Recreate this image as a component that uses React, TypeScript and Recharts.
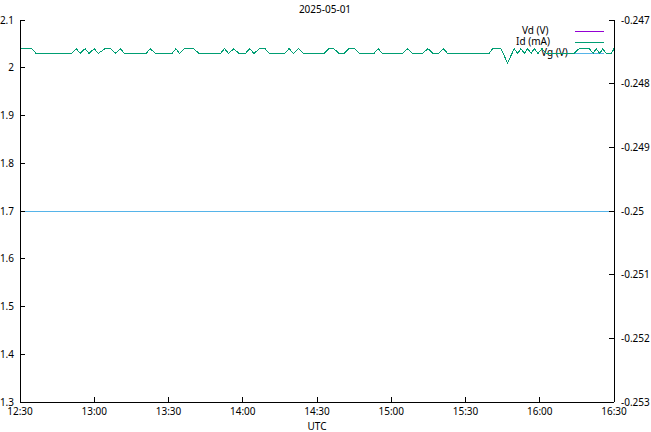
import React from 'react';
import { LineChart, Line, XAxis, YAxis, Customized } from 'recharts';

// minutes since 12:30 UTC
const times = [
  0, 4.7, 6.5, 20.9, 22.7, 24.3, 26.3, 27.9, 30, 31.6, 34.4, 36.7, 38.7, 40.5, 42.2,
  51, 52.6, 54.7, 61.4, 63, 64.4, 66.4, 70.2, 72.3, 81, 82.6, 84.3, 86.4, 88.4, 91.1,
  92.8, 94.5, 96.8, 99, 100.8, 106.9, 108.7, 110.5, 112.5, 114.5, 122.9, 124.8, 126.8,
  128.9, 130.9, 132.8, 135.1, 137.1, 143, 144.7, 146.4, 154.5, 156.7, 158.6, 162.6,
  164.8, 166.9, 169.1, 171, 172.8, 189.5, 191, 194.3, 197, 199.7, 201.1, 202.4, 203.8,
  205.1, 206.5, 207.8, 209.3, 210.9, 212.6, 223.9, 225.9, 230, 231.6, 232.8, 234.2,
  235.5, 236.8, 238.9, 240,
];
const idValues = [
  2.04, 2.04, 2.03, 2.03, 2.04, 2.03, 2.04, 2.03, 2.04, 2.03, 2.04, 2.04, 2.03, 2.04, 2.03,
  2.03, 2.04, 2.03, 2.03, 2.04, 2.03, 2.04, 2.04, 2.03, 2.03, 2.04, 2.03, 2.04, 2.03, 2.03,
  2.04, 2.03, 2.04, 2.04, 2.03, 2.03, 2.04, 2.03, 2.04, 2.03, 2.03, 2.04, 2.04,
  2.03, 2.03, 2.04, 2.04, 2.03, 2.03, 2.04, 2.03, 2.03, 2.04, 2.03, 2.03,
  2.04, 2.03, 2.03, 2.04, 2.03, 2.03, 2.04, 2.04, 2.01, 2.04, 2.03, 2.04, 2.03,
  2.04, 2.03, 2.04, 2.03, 2.04, 2.03, 2.03, 2.04, 2.04, 2.03, 2.04, 2.03,
  2.04, 2.03, 2.03, 2.04,
];
// Vd is drawn underneath Id and is fully hidden by it in the reference
const vdValues = [...idValues];
const vgTimes = [0, 240];
const vgValues = [-0.25, -0.25];

const xTicks = [0, 30, 60, 90, 120, 150, 180, 210, 240];
const xTickLabels = ['12:30', '13:00', '13:30', '14:00', '14:30', '15:00', '15:30', '16:00', '16:30'];
const leftTicks = [1.3, 1.4, 1.5, 1.6, 1.7, 1.8, 1.9, 2.0, 2.1];
const rightTicks = [-0.253, -0.252, -0.251, -0.25, -0.249, -0.248, -0.247];

const title = '2025-05-01';
const xLabel = 'UTC';

const data = times.map((t, i) => ({ t, id: idValues[i], vd: vdValues[i] }));
const vgData = vgTimes.map((t, i) => ({ t, vg: vgValues[i] }));

const FONT = 'Noto Sans';
const tickStyle = { fontSize: 10, fill: '#000', fontFamily: FONT };
const axisStroke = { stroke: '#000', shapeRendering: 'crispEdges' as const };

const Overlay = () => (
  <g fontFamily={FONT} fontSize={10} fill="#000">
    <text x={325} y={9} textAnchor="middle" dominantBaseline="central">{title}</text>
    <text x={317} y={426} textAnchor="middle" dominantBaseline="central">{xLabel}</text>
    <text x={522} y={30} dominantBaseline="central">Vd (V)</text>
    <line x1={575} x2={604} y1={31.5} y2={31.5} stroke="#9400d3" strokeWidth={1} shapeRendering="crispEdges" />
    <text x={516} y={41} dominantBaseline="central">Id (mA)</text>
    <line x1={575} x2={604} y1={42.5} y2={42.5} stroke="#009e73" strokeWidth={1} shapeRendering="crispEdges" />
    <text x={541} y={52} dominantBaseline="central">Vg (V)</text>
    <line x1={575} x2={604} y1={53.5} y2={53.5} stroke="#56b4e9" strokeWidth={1} shapeRendering="crispEdges" />
  </g>
);

export default function App() {
  return (
    <div style={{ position: 'absolute', left: 0, top: 0, width: 651, height: 432, background: '#fff' }}>
      <LineChart
        width={651}
        height={432}
        data={data}
        margin={{ top: 20, right: 0, bottom: 0, left: 0 }}
        style={{ fontFamily: FONT }}
      >
        <XAxis
          dataKey="t"
          type="number"
          domain={[0, 240]}
          ticks={xTicks}
          allowDataOverflow
          height={30}
          tickSize={-5}
          tickMargin={11}
          tick={tickStyle}
          tickFormatter={(v: number) => xTickLabels[xTicks.indexOf(v)] ?? ''}
          axisLine={axisStroke}
          tickLine={axisStroke}
          interval={0}
        />
        <XAxis
          xAxisId="top"
          orientation="top"
          dataKey="t"
          type="number"
          domain={[0, 240]}
          ticks={xTicks}
          allowDataOverflow
          height={0}
          tickSize={-5}
          tick={false}
          axisLine={axisStroke}
          tickLine={axisStroke}
          interval={0}
        />
        <YAxis
          yAxisId="left"
          type="number"
          domain={[1.3, 2.1]}
          ticks={leftTicks}
          allowDataOverflow
          width={20}
          tickSize={-5}
          tickMargin={11}
          tick={tickStyle}
          tickFormatter={(v: number) => String(Math.round(v * 10) / 10)}
          axisLine={axisStroke}
          tickLine={axisStroke}
          interval={0}
        />
        <YAxis
          yAxisId="right"
          orientation="right"
          type="number"
          domain={[-0.253, -0.247]}
          ticks={rightTicks}
          allowDataOverflow
          width={37}
          tickSize={-5}
          tickMargin={12}
          tick={{ ...tickStyle, textAnchor: 'start' }}
          tickFormatter={(v: number) => String(Math.round(v * 1000) / 1000)}
          axisLine={axisStroke}
          tickLine={axisStroke}
          interval={0}
        />
        <Line
          yAxisId="left"
          dataKey="vd"
          type="linear"
          stroke="#9400d3"
          strokeWidth={1}
          dot={false}
          shapeRendering="crispEdges"
          isAnimationActive={false}
        />
        <Line
          yAxisId="left"
          dataKey="id"
          type="linear"
          stroke="#009e73"
          strokeWidth={1}
          dot={false}
          shapeRendering="crispEdges"
          isAnimationActive={false}
        />
        <Line
          yAxisId="right"
          data={vgData}
          dataKey="vg"
          type="linear"
          stroke="#56b4e9"
          strokeWidth={1}
          dot={false}
          shapeRendering="crispEdges"
          isAnimationActive={false}
        />
        <Customized component={Overlay} />
      </LineChart>
    </div>
  );
}
